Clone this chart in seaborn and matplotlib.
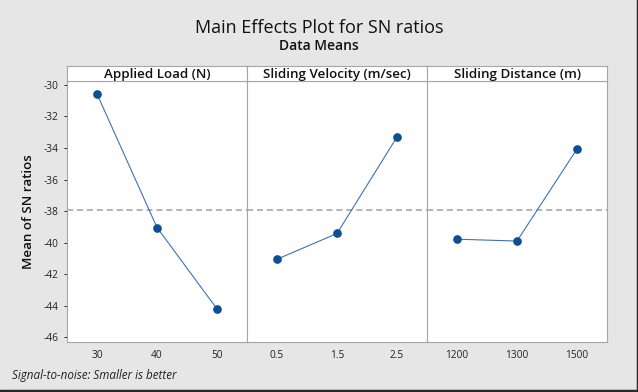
import numpy as np
import pandas as pd
import seaborn as sns
import matplotlib.pyplot as plt
from matplotlib.lines import Line2D

# values
factors = ['Applied Load (N)', 'Sliding Velocity (m/sec)', 'Sliding Distance (m)']
load_levels = ['30', '40', '50']
load_sn = [-30.57, -39.04, -44.20]
velocity_levels = ['0.5', '1.5', '2.5']
velocity_sn = [-41.05, -39.42, -33.30]
distance_levels = ['1200', '1300', '1500']
distance_sn = [-39.78, -39.90, -34.06]
y_ticks = [-30, -32, -34, -36, -38, -40, -42, -44, -46]

levels = [load_levels, velocity_levels, distance_levels]
values = [load_sn, velocity_sn, distance_sn]

rows = []
for f, lv, vals in zip(factors, levels, values):
    for l, v in zip(lv, vals):
        rows.append({'factor': f, 'level': l, 'sn': v})
df = pd.DataFrame(rows)
grand_mean = np.mean(load_sn + velocity_sn + distance_sn)

sns.set_theme(style='white')
plt.rcParams['font.family'] = ['Open Sans', 'DejaVu Sans']
plt.rcParams['axes.unicode_minus'] = False

fig = plt.figure(figsize=(6.38, 3.92), dpi=100)
fig.patch.set_facecolor('#e6e6e6')

W, H = 638, 392
left, right = 67, 607
top, bottom = 81, 342
strip_top = 66
pw = (right - left) / 3

line_col = '#3f72b5'
mark_col = '#0b4f96'
edge_col = '#a6a6a6'

axes = []
for i, f in enumerate(factors):
    x0 = left + i * pw
    ax = fig.add_axes([x0 / W, 1 - bottom / H, pw / W, (bottom - top) / H])
    sub = df[df['factor'] == f]
    sns.pointplot(data=sub, x='level', y='sn', order=levels[i], color=line_col,
                  markers='', linewidth=0.8, ax=ax, errorbar=None)
    sns.pointplot(data=sub, x='level', y='sn', order=levels[i], color=mark_col,
                  linestyle='none', markersize=4.2, ax=ax, errorbar=None)
    ax.axhline(grand_mean, color='#a0a0a0', linestyle=(0, (4, 2.5)), linewidth=1.1, zorder=0)
    ax.set_xlim(-0.5, 2.5)
    ax.set_ylim(-46.3, -29.75)
    ax.set_xlabel('')
    ax.set_ylabel('')
    ax.set_facecolor('white')
    for s in ax.spines.values():
        s.set_color(edge_col)
        s.set_linewidth(0.8)
    ax.tick_params(axis='x', labelsize=7.3, length=0, pad=6, colors='#222222')
    if i == 0:
        ax.set_yticks(y_ticks)
        ax.set_yticklabels([str(t) for t in y_ticks])
        ax.tick_params(axis='y', labelsize=7.3, length=2.5, width=0.7,
                       left=True, colors='#222222')
    else:
        ax.set_yticks([])
    axes.append(ax)

    # strip header
    sax = fig.add_axes([x0 / W, 1 - top / H, pw / W, (top - strip_top) / H])
    sax.set_facecolor('white')
    sax.set_xticks([])
    sax.set_yticks([])
    for s in sax.spines.values():
        s.set_color(edge_col)
        s.set_linewidth(0.8)
    sax.text(0.5, 0.45, f, ha='center', va='center', fontsize=9.6,
             fontweight='semibold', color='#111111', transform=sax.transAxes)

axes[0].set_ylabel('Mean of SN ratios', fontsize=9.6, fontweight='semibold', labelpad=6, color='#111111')

fig.text(0.5, 1 - 28 / H, 'Main Effects Plot for SN ratios', ha='center', va='center',
         fontsize=13, color='#111111')
fig.text(0.5, 1 - 46 / H, 'Data Means', ha='center', va='center',
         fontsize=10, fontweight='semibold', color='#111111')
fig.text(12 / W, 1 - 375 / H, 'Signal-to-noise: Smaller is better', ha='left', va='center',
         fontsize=8.4, style='italic', color='#222222')

# dark frame on right and bottom edges
fig.lines.append(Line2D([0, 1, 1], [0.002, 0.002, 1], transform=fig.transFigure,
                        color='#2a2a2a', linewidth=2.5))

fig.savefig('out.png', dpi=100, facecolor=fig.get_facecolor())
